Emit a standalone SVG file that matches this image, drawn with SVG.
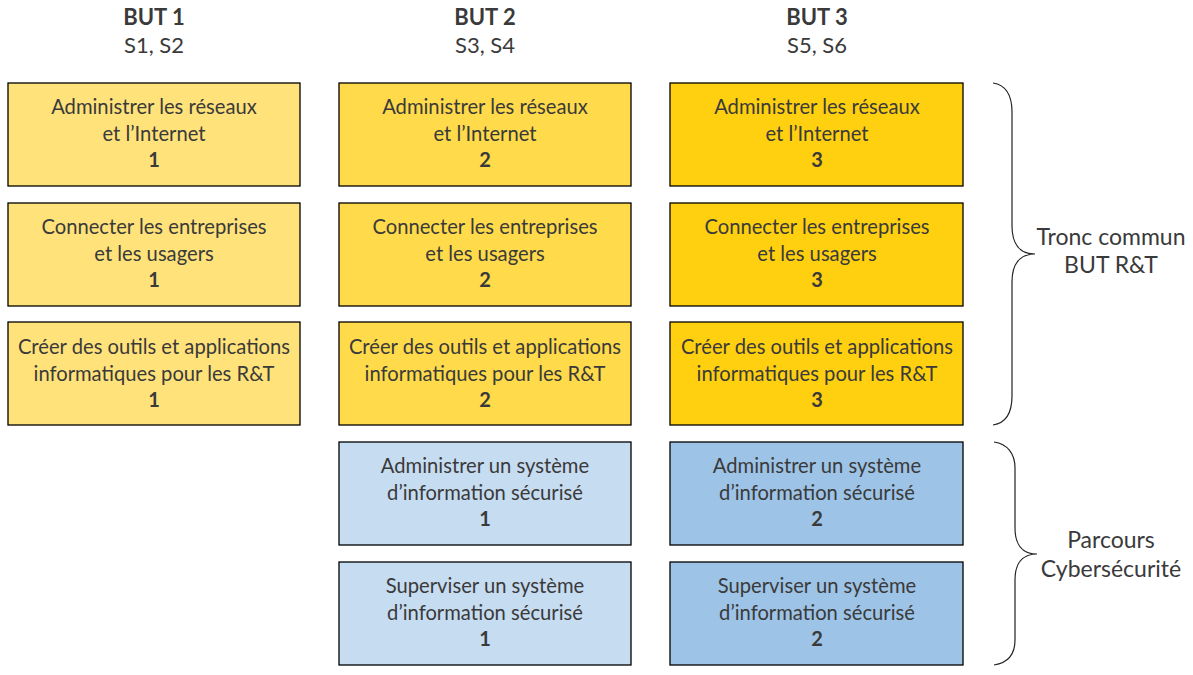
<svg xmlns="http://www.w3.org/2000/svg" width="1193" height="675" viewBox="0 0 1193 675">
<style>
text{font-family:Lato,"Open Sans","Liberation Sans",sans-serif;fill:#3a3a3a;text-anchor:middle}
.h{font-size:22px;font-weight:bold}
.s{font-size:22px}
.t{font-size:20.2px}
.b{font-size:20px;font-weight:bold}
.lbl{font-size:23px}
rect{stroke:#000;stroke-width:1.3}
.y1{fill:#FFE27A}.y2{fill:#FFDA4A}.y3{fill:#FFD010}
.b2{fill:#C6DCF1}.b3{fill:#9DC3E6}
.brace{fill:none;stroke:#222;stroke-width:1.2}
</style>
<rect width="1193" height="675" fill="#fff" style="stroke:none"/>
<g id="headers">
<text class="h" x="154" y="25">BUT 1</text><text class="s" x="154" y="53">S1, S2</text>
<text class="h" x="485" y="25">BUT 2</text><text class="s" x="485" y="53">S3, S4</text>
<text class="h" x="817" y="25">BUT 3</text><text class="s" x="817" y="53">S5, S6</text>
</g>
<g id="n11"><rect class="y1" x="8" y="83" width="292" height="103"/><text class="t" x="154" y="114">Administrer les réseaux</text><text class="t" x="154" y="141">et l’Internet</text><text class="b" x="154" y="167">1</text></g>
<g id="n12"><rect class="y1" x="8" y="203" width="292" height="103"/><text class="t" x="154" y="234">Connecter les entreprises</text><text class="t" x="154" y="261">et les usagers</text><text class="b" x="154" y="287">1</text></g>
<g id="n13"><rect class="y1" x="8" y="322" width="292" height="103"/><text class="t" x="154" y="354">Créer des outils et applications</text><text class="t" x="154" y="381">informatiques pour les R&amp;T</text><text class="b" x="154" y="407">1</text></g>
<g id="n21"><rect class="y2" x="339" y="83" width="292" height="103"/><text class="t" x="485" y="114">Administrer les réseaux</text><text class="t" x="485" y="141">et l’Internet</text><text class="b" x="485" y="167">2</text></g>
<g id="n22"><rect class="y2" x="339" y="203" width="292" height="103"/><text class="t" x="485" y="234">Connecter les entreprises</text><text class="t" x="485" y="261">et les usagers</text><text class="b" x="485" y="287">2</text></g>
<g id="n23"><rect class="y2" x="339" y="322" width="292" height="103"/><text class="t" x="485" y="354">Créer des outils et applications</text><text class="t" x="485" y="381">informatiques pour les R&amp;T</text><text class="b" x="485" y="407">2</text></g>
<g id="n24"><rect class="b2" x="339" y="442" width="292" height="103"/><text class="t" x="485" y="473">Administrer un système</text><text class="t" x="485" y="500">d’information sécurisé</text><text class="b" x="485" y="526">1</text></g>
<g id="n25"><rect class="b2" x="339" y="562" width="292" height="103"/><text class="t" x="485" y="593">Superviser un système</text><text class="t" x="485" y="620">d’information sécurisé</text><text class="b" x="485" y="646">1</text></g>
<g id="n31"><rect class="y3" x="670" y="83" width="293" height="103"/><text class="t" x="817" y="114">Administrer les réseaux</text><text class="t" x="817" y="141">et l’Internet</text><text class="b" x="817" y="167">3</text></g>
<g id="n32"><rect class="y3" x="670" y="203" width="293" height="103"/><text class="t" x="817" y="234">Connecter les entreprises</text><text class="t" x="817" y="261">et les usagers</text><text class="b" x="817" y="287">3</text></g>
<g id="n33"><rect class="y3" x="670" y="322" width="293" height="103"/><text class="t" x="817" y="354">Créer des outils et applications</text><text class="t" x="817" y="381">informatiques pour les R&amp;T</text><text class="b" x="817" y="407">3</text></g>
<g id="n34"><rect class="b3" x="670" y="442" width="293" height="103"/><text class="t" x="817" y="473">Administrer un système</text><text class="t" x="817" y="500">d’information sécurisé</text><text class="b" x="817" y="526">2</text></g>
<g id="n35"><rect class="b3" x="670" y="562" width="293" height="103"/><text class="t" x="817" y="593">Superviser un système</text><text class="t" x="817" y="620">d’information sécurisé</text><text class="b" x="817" y="646">2</text></g>
<g id="connectors">
<path class="brace" d="M993,83 C1006,85 1012,95 1012,112 L1012,226 C1012,244 1020,254 1035,254 C1020,254 1012,264 1012,282 L1012,396 C1012,413 1006,423 993,425"/>
<path class="brace" d="M994,442 C1007,444 1015,453 1015,468 L1015,528 C1015,544 1022,554 1037,554 C1022,554 1015,564 1015,580 L1015,640 C1015,655 1007,663 994,665"/>
</g>
<g id="brace-labels">
<text class="lbl" x="1111" y="245">Tronc commun</text><text class="lbl" x="1111" y="273">BUT R&amp;T</text>
<text class="lbl" x="1111" y="548">Parcours</text><text class="lbl" x="1111" y="577">Cybersécurité</text>
</g>
</svg>
